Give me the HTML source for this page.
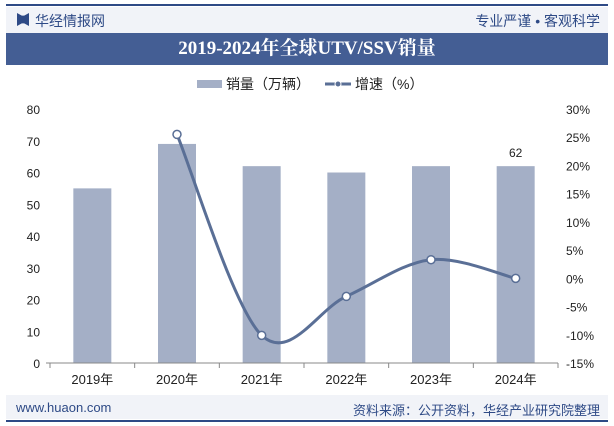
<!DOCTYPE html>
<html><head><meta charset="utf-8"><style>
body{margin:0;width:614px;height:426px;background:#fff;font-family:"Liberation Sans","Noto Sans CJK SC",sans-serif;overflow:hidden;position:relative}
.a{position:absolute}
</style></head><body>
<div class="a" style="left:6px;top:4px;width:602px;height:2px;background:#2e4a86"></div>
<div class="a" style="left:6px;top:7px;width:602px;height:26px;background:#f1f3f8"></div>
<div class="a" style="left:17px;top:13px;width:12px;height:13px;background:#2e4a86;clip-path:polygon(0 0,40% 20%,60% 20%,100% 0,100% 100%,60% 80%,40% 80%,0 100%)"></div>
<div class="a" style="left:35px;top:11px;font-size:14px;color:#2e4a86">华经情报网</div>
<div class="a" style="right:14px;top:11px;font-size:14px;color:#2e4a86">专业严谨 • 客观科学</div>
<div class="a" style="left:6px;top:33px;width:602px;height:32px;background:#445e94;color:#fff;font-family:'Liberation Serif','Noto Serif CJK SC',serif;font-weight:bold;font-size:19px;text-align:center;line-height:32px">2019-2024年全球UTV/SSV销量</div>
<div class="a" style="left:197px;top:74px;font-size:14px;color:#222;display:flex;align-items:center"><span style="display:inline-block;width:25px;height:8px;background:#a4afc6;margin-right:4px"></span>销量（万辆）</div>
<div class="a" style="left:325px;top:74px;font-size:14px;color:#222;display:flex;align-items:center"><svg width="26" height="10" style="margin-right:4px"><line x1="0" y1="5" x2="26" y2="5" stroke="#5a6f96" stroke-width="3"/><circle cx="13" cy="5" r="3" fill="#5a6f96" stroke="#fff"/></svg>增速（%）</div>
<svg class="a" style="left:0;top:0" width="614" height="426" id="ch"></svg>
<div class="a" style="left:6px;top:395px;width:602px;height:24px;background:#f1f3f8"></div>
<div class="a" style="left:16px;top:400px;font-size:13px;color:#2e4a86">www.huaon.com</div>
<div class="a" style="right:14px;top:400px;font-size:13px;color:#2e4a86">资料来源：公开资料，华经产业研究院整理</div>
<div class="a" style="left:6px;top:420px;width:602px;height:2px;background:#2e4a86"></div>
<script>
const categories=["2019年","2020年","2021年","2022年","2023年","2024年"];
const sales=[55,69,62,60,62,62];
const growth=[null,25.5,-10.1,-3.2,3.3,0];
const leftTicks=[0,10,20,30,40,50,60,70,80];
const rightTicks=[-15,-10,-5,0,5,10,15,20,25,30];
const NS="http://www.w3.org/2000/svg",svg=document.getElementById('ch');
const X0=50,X1=558,Y0=363,Y1=109,bw=(X1-X0)/categories.length;
const xc=i=>X0+bw*(i+0.5);
const yl=v=>Y0-(v/80)*(Y0-Y1);
const yr=v=>Y0-((v+15)/45)*(Y0-Y1);
function mk(t,a,txt){const e=document.createElementNS(NS,t);for(const k in a)e.setAttribute(k,a[k]);if(txt!==undefined)e.textContent=txt;svg.appendChild(e);return e;}
leftTicks.forEach(v=>{const t=mk('text',{x:40,y:yl(v)+5,'text-anchor':'end','font-size':12,fill:'#222'},v);

});
rightTicks.forEach(v=>{const t=mk('text',{x:566,y:yr(v)+5,'font-size':12,fill:'#222'},v+'%');

});
sales.forEach((v,i)=>{const r=mk('rect',{x:xc(i)-19,y:yl(v),width:38,height:Y0-yl(v),fill:'#a4afc6'});

});
const ax=mk('line',{x1:X0-4,y1:Y0,x2:X1,y2:Y0,stroke:'#888'});


categories.forEach((c,i)=>{mk('line',{x1:X0+bw*i,y1:Y0,x2:X0+bw*i,y2:Y0+5,stroke:'#888'});
const t=mk('text',{x:xc(i),y:Y0+21,'text-anchor':'middle','font-size':13,fill:'#222'},c);

});
mk('line',{x1:X1,y1:Y0,x2:X1,y2:Y0+5,stroke:'#888'});
const lbl=mk('text',{x:xc(5),y:yl(sales[5])-9,'text-anchor':'middle','font-size':12,fill:'#222'},sales[5]);


const pts=[];growth.forEach((g,i)=>{if(g!==null)pts.push([xc(i),yr(g)]);});
let d='M'+pts[0][0]+','+pts[0][1];
for(let i=0;i<pts.length-1;i++){const p0=pts[i-1]||pts[i],p1=pts[i],p2=pts[i+1],p3=pts[i+2]||p2;
d+=` C${p1[0]+(p2[0]-p0[0])/6},${p1[1]+(p2[1]-p0[1])/6} ${p2[0]-(p3[0]-p1[0])/6},${p2[1]-(p3[1]-p1[1])/6} ${p2[0]},${p2[1]}`;}
const ln=mk('path',{d:d,fill:'none',stroke:'#5a6f96','stroke-width':3});


pts.forEach(p=>{const c=mk('circle',{cx:p[0],cy:p[1],r:4,fill:'#fff',stroke:'#5a6f96','stroke-width':1.5});

});
</script>
</body></html>
